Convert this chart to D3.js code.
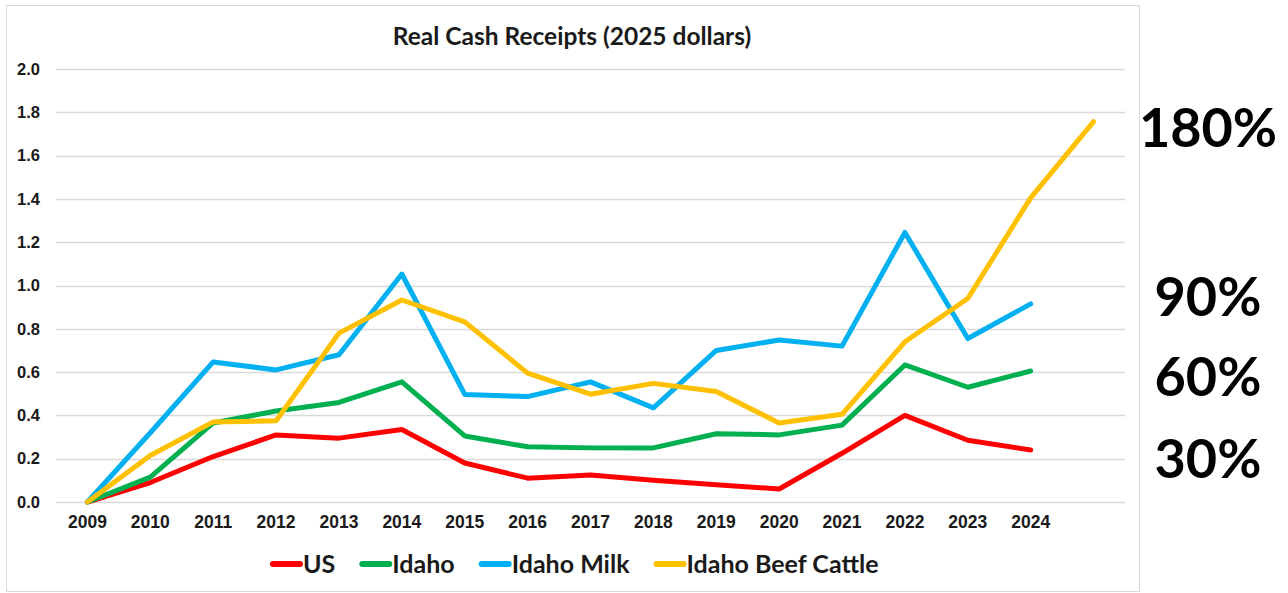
<!DOCTYPE html>
<html>
<head>
<meta charset="utf-8">
<script src="https://cdn.jsdelivr.net/npm/d3@7"></script>
<style>
  body { margin: 0; background: #fff; }
  svg { display: block; }
</style>
</head>
<body>
<svg id="chart" width="1288" height="593"></svg>
<script>
// categories (last slot has no label, beef cattle extends into it)
const years = ['2009','2010','2011','2012','2013','2014','2015','2016','2017','2018','2019','2020','2021','2022','2023','2024',''];

const usVals = [0, 0.09, 0.21, 0.31, 0.295, 0.335, 0.18, 0.11, 0.125, 0.10, 0.08, 0.06, 0.225, 0.40, 0.285, 0.24];
const idahoVals = [0, 0.115, 0.365, 0.42, 0.46, 0.555, 0.305, 0.255, 0.25, 0.25, 0.315, 0.31, 0.355, 0.633, 0.53, 0.605];
const milkVals = [0, 0.32, 0.647, 0.61, 0.68, 1.053, 0.497, 0.487, 0.555, 0.435, 0.70, 0.748, 0.72, 1.245, 0.755, 0.915];
const beefVals = [0, 0.215, 0.37, 0.375, 0.78, 0.933, 0.832, 0.595, 0.498, 0.548, 0.51, 0.365, 0.405, 0.74, 0.94, 1.405, 1.757];

const seriesNames = ['US', 'Idaho', 'Idaho Milk', 'Idaho Beef Cattle'];
const seriesColors = ['#ff0000', '#00b050', '#00b0f0', '#ffc000'];
const yTicks = [0, 0.2, 0.4, 0.6, 0.8, 1.0, 1.2, 1.4, 1.6, 1.8, 2.0];
const sideLabels = ['180%', '90%', '60%', '30%'];

const series = [usVals, idahoVals, milkVals, beefVals].map((vals, i) => ({
  name: seriesNames[i], color: seriesColors[i], values: vals
}));

const svg = d3.select('#chart');
const plotL = 56, plotR = 1125, plotT = 69, plotB = 502;

// chart frame
svg.append('rect')
  .attr('x', 6.5).attr('y', 5.5)
  .attr('width', 1133).attr('height', 586)
  .attr('fill', '#fff')
  .attr('stroke', '#d9d9d9');

const x = d3.scaleBand().domain(years.map((d, i) => i)).range([plotL, plotR]).padding(0);
const y = d3.scaleLinear().domain([0, 2]).range([plotB, plotT]);
const cx = i => x(i) + x.bandwidth() / 2;

// gridlines
svg.append('g')
  .selectAll('line')
  .data(yTicks)
  .join('line')
  .attr('x1', plotL).attr('x2', plotR)
  .attr('y1', d => Math.round(y(d)) + 0.5)
  .attr('y2', d => Math.round(y(d)) + 0.5)
  .attr('stroke', '#d9d9d9')
  .attr('stroke-width', 1.5);

// y axis
const yAxis = svg.append('g')
  .attr('transform', `translate(${plotL},0)`)
  .call(d3.axisLeft(y).tickValues(yTicks).tickFormat(d3.format('.1f')).tickSize(0).tickPadding(16));
yAxis.select('.domain').remove();
yAxis.selectAll('text')
  .attr('font-family', 'Liberation Sans, Arial, sans-serif')
  .attr('font-weight', 'bold')
  .attr('font-size', 16.5)
  .attr('fill', '#1a1a1a');

// x axis
const xAxis = svg.append('g')
  .attr('transform', `translate(0,${plotB})`)
  .call(d3.axisBottom(x).tickFormat(i => years[i]).tickSize(0).tickPadding(14));
xAxis.select('.domain').remove();
xAxis.selectAll('text')
  .attr('font-family', 'Liberation Sans, Arial, sans-serif')
  .attr('font-weight', 'bold')
  .attr('font-size', 17.5)
  .attr('fill', '#1a1a1a');

// lines
const line = d3.line()
  .x((d, i) => cx(i))
  .y(d => y(d))
  .curve(d3.curveLinear);

svg.append('g')
  .selectAll('path')
  .data(series)
  .join('path')
  .attr('d', d => line(d.values))
  .attr('fill', 'none')
  .attr('stroke', d => d.color)
  .attr('stroke-width', 5)
  .attr('stroke-linejoin', 'round')
  .attr('stroke-linecap', 'round');

// title
svg.append('text')
  .attr('x', 572).attr('y', 45)
  .attr('text-anchor', 'middle')
  .attr('font-family', 'Lato, sans-serif')
  .attr('font-weight', 'bold')
  .attr('font-size', 24.5)
  .attr('fill', '#1a1a1a')
  .text('Real Cash Receipts (2025 dollars)');

// legend
const legend = svg.append('g').attr('transform', 'translate(270,564)');
let lx = 0;
series.forEach(s => {
  legend.append('line')
    .attr('x1', lx + 3).attr('x2', lx + 30)
    .attr('y1', 0).attr('y2', 0)
    .attr('stroke', s.color)
    .attr('stroke-width', 6)
    .attr('stroke-linecap', 'round');
  const t = legend.append('text')
    .attr('x', lx + 33).attr('y', 8.5)
    .attr('font-family', 'Lato, sans-serif')
    .attr('font-weight', 'bold')
    .attr('font-size', 25)
    .attr('fill', '#1a1a1a')
    .text(s.name);
  lx += 33 + t.node().getComputedTextLength() + 24;
});

// big percentage notes on the right
const sideY = [147, 316, 396, 478];
svg.append('g')
  .selectAll('text')
  .data(sideLabels)
  .join('text')
  .attr('x', 1208)
  .attr('y', (d, i) => sideY[i])
  .attr('text-anchor', 'middle')
  .attr('font-family', 'Lato, sans-serif')
  .attr('font-weight', 'bold')
  .attr('font-size', 54)
  .attr('fill', '#000')
  .text(d => d);
</script>
</body>
</html>
